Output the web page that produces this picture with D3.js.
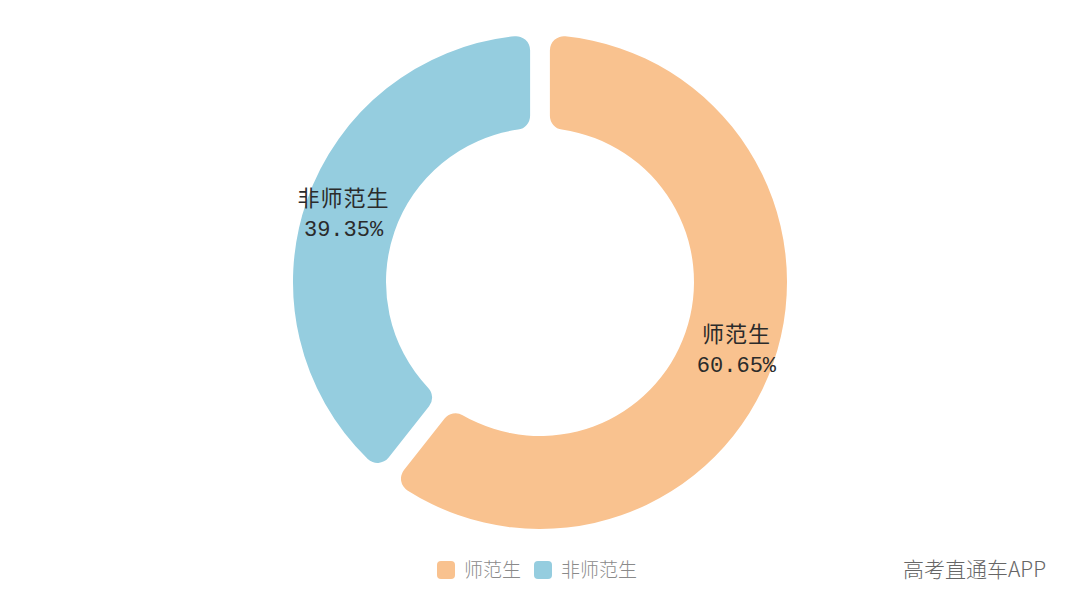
<!DOCTYPE html>
<html>
<head>
<meta charset="utf-8">
<script src="https://cdn.jsdelivr.net/npm/d3@7"></script>
<style>
  html, body { margin: 0; padding: 0; background: #fff; }
  svg { display: block; }
</style>
</head>
<body>
<svg id="chart" width="1080" height="609"></svg>
<script>
const categories = ["师范生", "非师范生"];
const values = [60.65, 39.35];
const colors = ["#f9c28f", "#95cddf"];
const watermark = "高考直通车APP";

const W = 1080, H = 609;
const cx = 540, cy = 282;
const outerR = 247, innerR = 154;

const svg = d3.select("#chart");

const pie = d3.pie().sort(null).value(d => d.value);
const data = categories.map((c, i) => ({ name: c, value: values[i], color: colors[i] }));
const arcs = pie(data);

const arc = d3.arc()
  .innerRadius(innerR)
  .outerRadius(outerR)
  .cornerRadius(14)
  .padAngle(0.068);

const g = svg.append("g").attr("transform", `translate(${cx},${cy})`);

g.selectAll("path.slice")
  .data(arcs)
  .join("path")
  .attr("class", "slice")
  .attr("d", arc)
  .attr("fill", d => d.data.color);

const labelR = 208;
const labelArc = d3.arc().innerRadius(labelR).outerRadius(labelR);

const labels = g.selectAll("g.label")
  .data(arcs)
  .join("g")
  .attr("class", "label")
  .attr("transform", d => {
    const [x, y] = labelArc.centroid(d);
    return `translate(${x},${y})`;
  });

labels.append("text")
  .attr("text-anchor", "middle")
  .attr("y", -8)
  .attr("font-family", "'Liberation Serif', 'Noto Sans CJK SC', serif")
  .attr("font-size", 22)
  .attr("font-weight", 400)
  .attr("fill", "#2b2b2b")
  .attr("letter-spacing", 1)
  .text(d => d.data.name);

labels.append("text")
  .attr("text-anchor", "middle")
  .attr("y", 22)
  .attr("font-family", "'Liberation Mono', 'DejaVu Sans Mono', monospace")
  .attr("font-size", 22)
  .attr("fill", "#2b2b2b")
  .text(d => d.data.value.toFixed(2) + "%");

// legend
const legend = svg.append("g").attr("transform", "translate(437,561)");
const legendX = [0, 97];
const items = legend.selectAll("g.item")
  .data(data)
  .join("g")
  .attr("class", "item")
  .attr("transform", (d, i) => `translate(${legendX[i]},0)`);

items.append("rect")
  .attr("width", 18)
  .attr("height", 18)
  .attr("rx", 4)
  .attr("fill", d => d.color);

items.append("text")
  .attr("x", 27)
  .attr("y", 16)
  .attr("font-family", "'Noto Sans CJK SC', sans-serif")
  .attr("font-size", 19)
  .attr("font-weight", 300)
  .attr("fill", "#8a8a8a")
  .text(d => d.name);

svg.append("text")
  .attr("x", 1046)
  .attr("y", 577)
  .attr("text-anchor", "end")
  .attr("font-family", "'Noto Sans CJK SC', sans-serif")
  .attr("font-size", 21)
  .attr("font-weight", 300)
  .attr("fill", "#666666")
  .text(watermark);
</script>
</body>
</html>
